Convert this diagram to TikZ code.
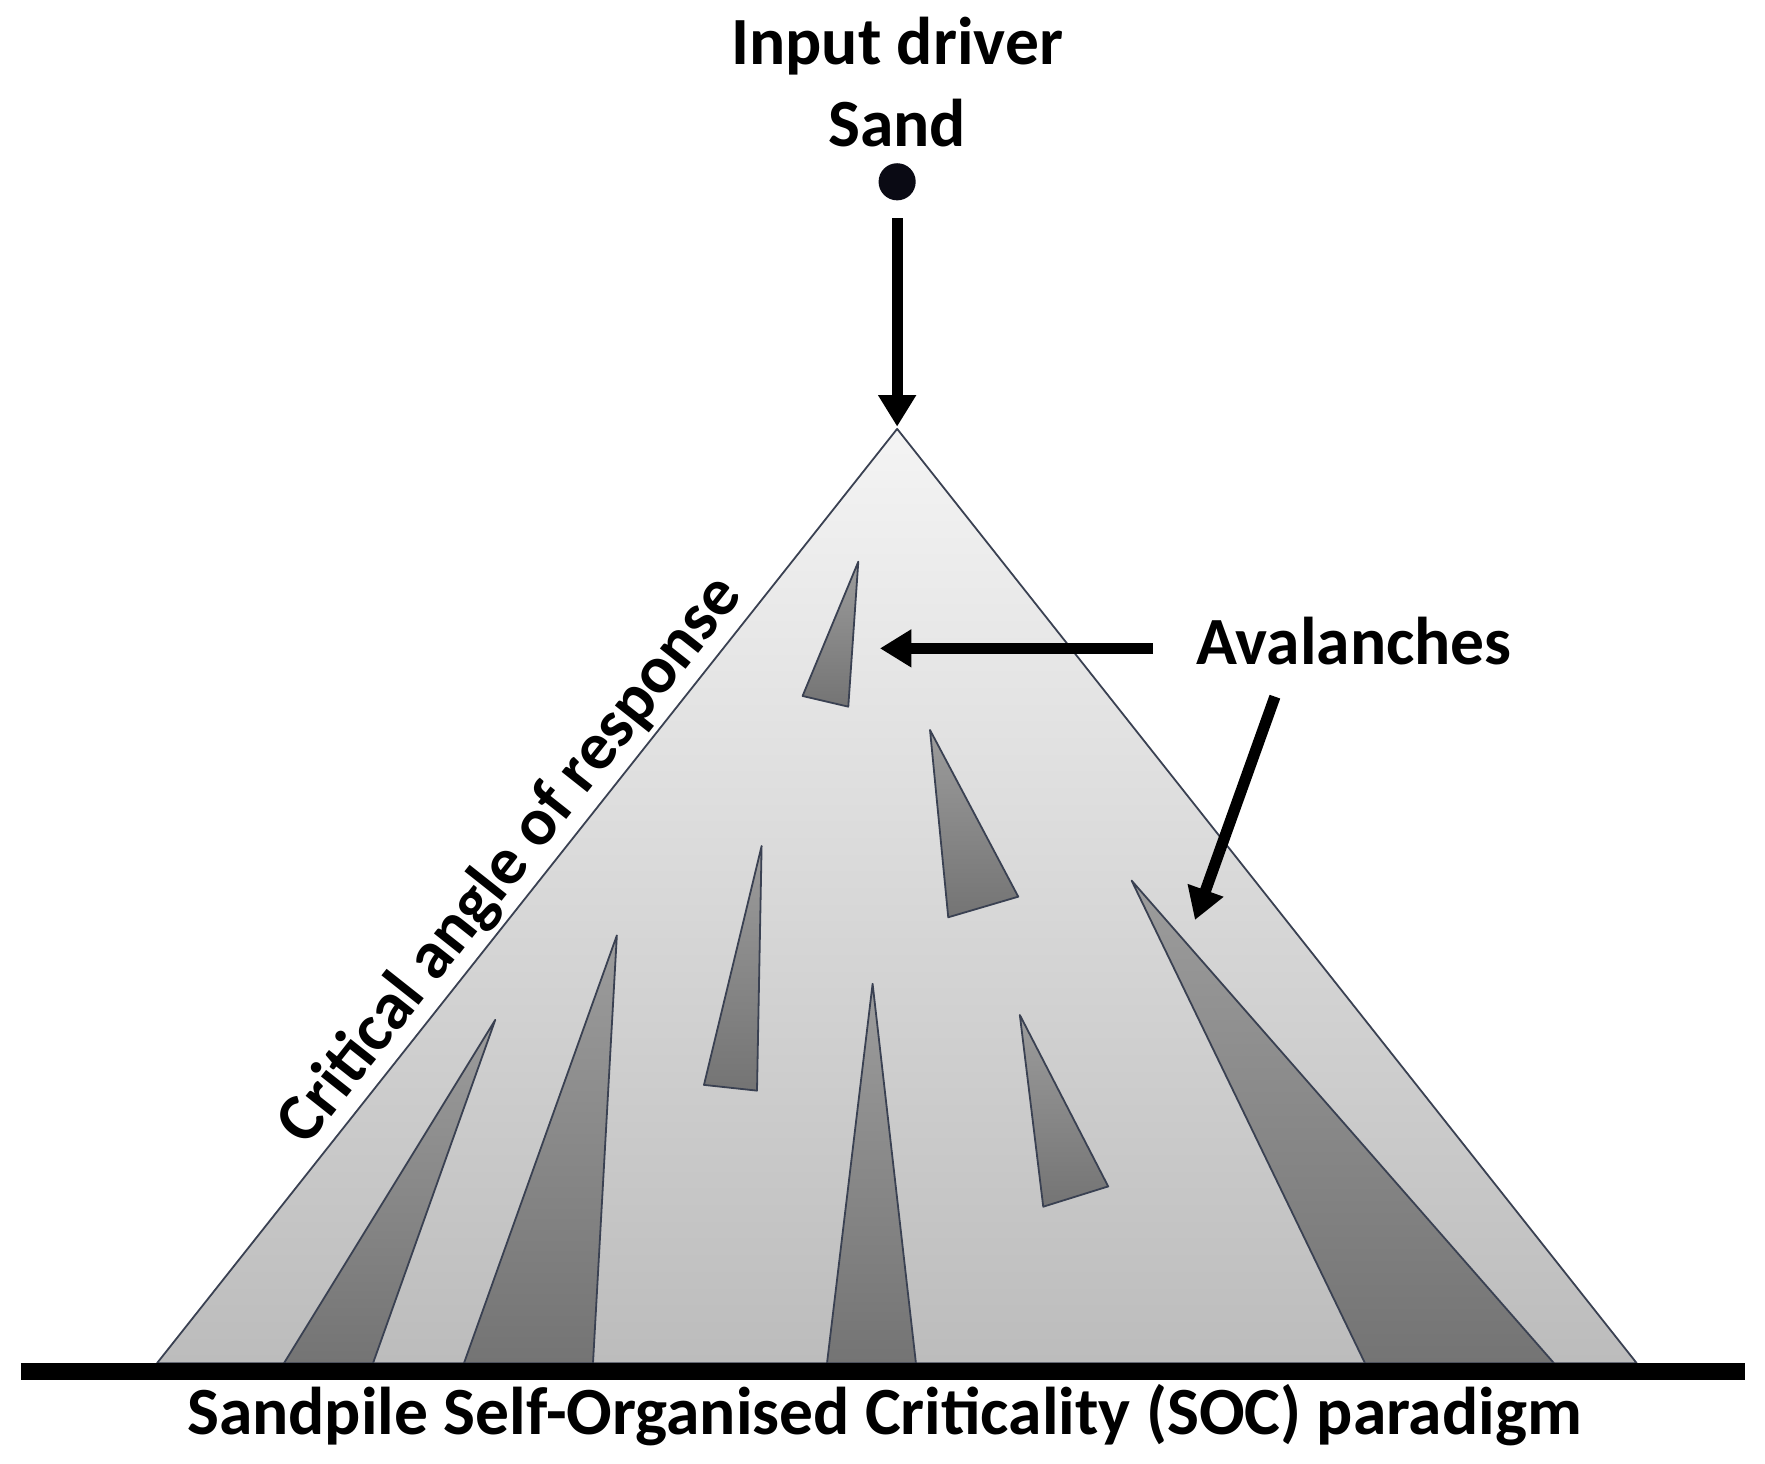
\documentclass[tikz,border=0pt]{standalone}
\usepackage{fontspec}
\setmainfont{Carlito}
\usetikzlibrary{arrows.meta}
\definecolor{edgec}{HTML}{3A4152}
\definecolor{pilet}{HTML}{F4F4F4}
\definecolor{pileb}{HTML}{BCBCBC}
\definecolor{avt}{HTML}{9C9C9C}
\definecolor{avb}{HTML}{747474}
\definecolor{dotc}{HTML}{0A0A14}
\begin{document}
\begin{tikzpicture}[x=0.5pt,y=-0.5pt,
  pile/.style={draw=edgec, line width=0.8pt, top color=pilet, bottom color=pileb, line join=round},
  aval/.style={draw=edgec, line width=0.8pt, top color=avt, bottom color=avb, line join=round},
  thickarrow/.style={line width=5pt, -{Triangle[length=14pt,width=16pt]}},
  lbl/.style={font=\fontsize{30}{36}\selectfont\bfseries, inner sep=0pt}]
\useasboundingbox (0,0) rectangle (1568,1300);
% sandpile
\coordinate (apex) at (797,381);
\coordinate (bl) at (139.5,1211);
\coordinate (br) at (1454,1211);
\path[pile] (apex) -- (bl) -- (br) -- cycle;
% avalanches
\path[aval] (762.5,499) -- (713,618.3) -- (753.6,627.8) -- cycle;
\path[aval] (826.2,648.5) -- (842.4,814.9) -- (904.6,796.6) -- cycle;
\path[aval] (676.6,751.6) -- (625.4,963.8) -- (672.5,968.9) -- cycle;
\path[aval] (906,901.7) -- (926.8,1072) -- (984.5,1054) -- cycle;
\path[aval] (440,906) -- (252.3,1211) -- (331.4,1211) -- cycle;
\path[aval] (548,831) -- (412.2,1211) -- (526.8,1211) -- cycle;
\path[aval] (775.2,874) -- (734.7,1211) -- (813.7,1211) -- cycle;
\path[aval] (1005.3,782.3) -- (1212.6,1211) -- (1380.5,1211) -- cycle;
% ground
\coordinate (gl) at (18.5,1218.5);
\coordinate (gr) at (1550,1218.5);
\draw[line width=7.5pt] (gl) -- (gr);
% labels
\node[lbl, anchor=base] (inp) at (797,57.7) {Input driver};
\node[lbl, anchor=base] (sand) at (797,130) {Sand};
\node[circle, fill=dotc, minimum size=16.5pt, inner sep=0pt] (dot) at (797,161.5) {};
\coordinate (vtop) at (797,194);
\coordinate (vtip) at (797,379);
\draw[thickarrow] (vtop) -- (vtip);
\node[lbl, anchor=base west] (aval) at (1062.5,590.7) {Avalanches};
\coordinate (h1) at (1024.5,576);
\coordinate (h2) at (781.7,576);
\draw[thickarrow] (h1) -- (h2);
\coordinate (d1) at (1132.6,618.9);
\coordinate (d2) at (1061.6,817.3);
\draw[thickarrow] (d1) -- (d2);
\path (bl) -- node[lbl, sloped, pos=0.515, above=2pt] (crit) {Critical angle of response} (apex);
\node[lbl, anchor=base west] (title) at (165.8,1274.8) {Sandpile Self-Organised Criticality (SOC) paradigm};
\end{tikzpicture}
\end{document}
